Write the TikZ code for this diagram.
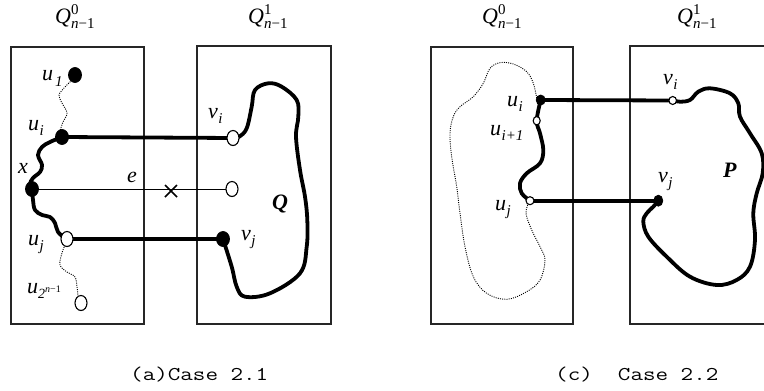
\documentclass[tikz,border=0pt]{standalone}
\usepackage{fontspec}
\usepackage{graphicx}
\setmainfont{Liberation Serif}
\newcommand\lb[2]{\textit{#1}\kern0.5pt\raisebox{-5pt}{\fontsize{15}{16}\selectfont\itshape #2}}
\newcommand\qlab[1]{\textit{Q}\rlap{\raisebox{9pt}{\fontsize{15}{16}\selectfont #1}}\raisebox{-5pt}{\fontsize{15}{16}\selectfont\itshape n\upshape −1}}
\newcommand\captext[1]{\scalebox{1.25}[1]{#1}}
\begin{document}
\begin{tikzpicture}[x=1pt,y=-1pt,
  box/.style={draw=black!85, line width=1.1pt},
  thickline/.style={line width=3.8pt, line cap=round, line join=round},
  thinline/.style={line width=1pt},
  dotline/.style={line width=0.9pt, dash pattern=on 1pt off 1.2pt},
  lab/.style={font=\fontsize{22}{24}\selectfont, inner sep=0pt, anchor=base west},
  hlab/.style={font=\fontsize{22}{24}\selectfont, inner sep=0pt, anchor=base west},
  captxt/.style={font=\ttfamily\fontsize{19.5}{24}\selectfont, inner sep=0pt, anchor=base west},
  fdot/.style={fill=black, draw=black, line width=0.8pt},
  odot/.style={fill=white, draw=black, line width=1.1pt}]
\useasboundingbox (0,0) rectangle (764,391);

% ---------- boxes ----------
\draw[box] (11,47) rectangle (144,324);
\draw[box] (197,46) rectangle (331,324);
\draw[box] (431,47) rectangle (573,324);
\draw[box] (765,46) -- (630,46) -- (630,324) -- (765,324);

% ---------- titles ----------
\node[hlab] (t1) at (55,23) {\qlab{0}};
\node[hlab] (t2) at (248,23) {\qlab{1}};
\node[hlab] (t3) at (482,23) {\qlab{0}};
\node[hlab] (t4) at (677,23) {\qlab{1}};

% ---------- panel (a) coordinates ----------
\coordinate (u1) at (75,75);
\coordinate (ui) at (62,137);
\coordinate (xx) at (32,189);
\coordinate (uj) at (67,239);
\coordinate (un) at (81,303);
\coordinate (vi) at (233,138);
\coordinate (ve) at (232,189);
\coordinate (vj) at (223,239);

% dotted wiggles
\draw[dotline] plot[smooth, tension=0.6] coordinates {(72,80) (65,87) (59,95) (62,103) (67,113) (63,122) (60,131)};
\draw[dotline] plot[smooth, tension=0.6] coordinates {(65,245) (62,253) (60,265) (67,272) (75,277) (77,287) (78,296)};
% thick wiggles
\draw[thickline] plot[smooth, tension=0.6] coordinates {(62,137) (50,142) (42,147) (38,155) (42,165) (40,172) (33,178) (30,184) (32,189)};
\draw[thickline] plot[smooth, tension=0.6] coordinates {(32,189) (33,200) (35,210) (42,215) (50,217) (55,223) (58,232) (66,239)};
% thick edges
\draw[thickline] (ui) -- (vi);
\draw[thickline] (uj) -- (vj);
% thin edge e
\draw[thinline] (xx) -- (ve);
\draw[line width=1.6pt] (165,185) -- (177,197) (165,197) -- (177,185);
% Q cycle
\draw[thickline] plot[smooth, tension=0.6] coordinates {(233,138) (239.3,136.7) (246.7,128.3) (251.7,106.7) (255,90) (268.3,83.3) (281.7,86.7) (296.7,100) (298.3,116.7) (296,136.7) (300,170) (305,196.7) (307.3,220) (306.7,246.7) (300,273.3) (270,293.3) (245,296.7) (236.7,286.7) (231.7,266.7) (223,239)};

% dots (a)
\draw[fdot] (u1) ellipse [x radius=6.5, y radius=7.5];
\draw[fdot] (ui) ellipse [x radius=6.5, y radius=7.5];
\draw[fdot] (xx) ellipse [x radius=6.5, y radius=7.5];
\draw[odot] (uj) ellipse [x radius=6, y radius=7.5];
\draw[odot] (un) ellipse [x radius=6, y radius=7.5];
\draw[odot] (vi) ellipse [x radius=6, y radius=7.5];
\draw[odot] (ve) ellipse [x radius=6, y radius=7.5];
\draw[fdot] (vj) ellipse [x radius=6.5, y radius=7.5];

% labels (a)
\node[lab] (lu1) at (42,80) {\textit{u}\kern2pt\raisebox{-6pt}{\fontsize{15}{16}\selectfont\itshape 1}};
\node[lab] (lui) at (28,130) {\lb{u}{i}};
\node[lab] (lx) at (18,173) {\textit{x}};
\node[lab] (le) at (127,182) {\textit{e}};
\node[lab] (luj) at (28,245) {\lb{u}{j}};
\node[lab] (lun) at (27,293) {\textit{u}\raisebox{-5pt}{\fontsize{14}{15}\selectfont\itshape 2\raisebox{6pt}{\fontsize{10}{11}\selectfont n\upshape −1}}};
\node[lab] (lvi) at (208,118) {\lb{v}{i}};
\node[lab] (lvj) at (241,240) {\lb{v}{j}};
\node[lab] (lQ) at (272,209) {\textbf{\textit{Q}}};

% ---------- panel (c) ----------
\coordinate (cui) at (540.7,100);
\coordinate (cui1) at (536.7,120.7);
\coordinate (cuj) at (530,200.7);
\coordinate (cvi) at (672.7,100.5);
\coordinate (cvj) at (658.3,200.7);

\draw[dotline] plot[smooth, tension=0.6] coordinates {(536.7,98) (533.3,83.3) (526.7,71.7) (513.3,64) (500,62.7) (490,68.3) (483.3,83.3) (473.3,96.7) (460,106.7) (453.3,116.7) (450,133.3) (451.7,156.7) (456.7,186.7) (460,213.3) (465,246.7) (473.3,276.7) (486.7,293.3) (506.7,299.3) (526.7,291.7) (540,280) (545,260) (540,246.7) (531.7,230) (526,213.3) (529,202)};

\draw[thickline] plot[smooth, tension=0.6] coordinates {(540.7,100) (536.7,120.7) (540,133.3) (543.3,150) (540,163.3) (526.7,173.3) (520,183.3) (521.7,193.3) (530,200.7)};
\draw[thickline] (cui) -- (cvi);
\draw[thickline] (cuj) -- (cvj);
\draw[thickline] plot[smooth, tension=0.6] coordinates {(672.7,100.5) (680,101.7) (690,100) (698.3,91.7) (710,88.3) (730,93.3) (738.3,103.3) (740,116.7) (750,133.3) (761.7,153.3) (762.7,173.3) (756.7,193.3) (753.3,213.3) (755,240) (750,266.7) (736.7,280) (716.7,285) (690,276.7) (666.7,256.7) (648.3,236.7) (643.3,221.7) (646.7,213.3) (653.3,206.7) (658.3,200.7)};

\draw[fdot] (cui) ellipse [x radius=4.5, y radius=5];
\draw[odot] (cui1) ellipse [x radius=3.5, y radius=4.2];
\draw[odot] (cuj) ellipse [x radius=4, y radius=4];
\draw[odot] (cvi) ellipse [x radius=3.8, y radius=4];
\draw[fdot] (cvj) ellipse [x radius=4.5, y radius=5.5];

\node[lab] (clui) at (507,106) {\lb{u}{i}};
\node[lab] (clui1) at (490,135) {\lb{u}{i+1}};
\node[lab] (cluj) at (495,210) {\lb{u}{j}};
\node[lab] (clvi) at (663,84) {\lb{v}{i}};
\node[lab] (clvj) at (658,182) {\lb{v}{j}};
\node[lab] (clP) at (723,177) {\textbf{\textit{P}}};

% ---------- captions ----------
\node[captxt] (ca) at (130,380) {\captext{(a)Case 2.1}};
\node[captxt] (cc) at (555,380) {\captext{(c)\ \ Case 2.2}};
\end{tikzpicture}
\end{document}
